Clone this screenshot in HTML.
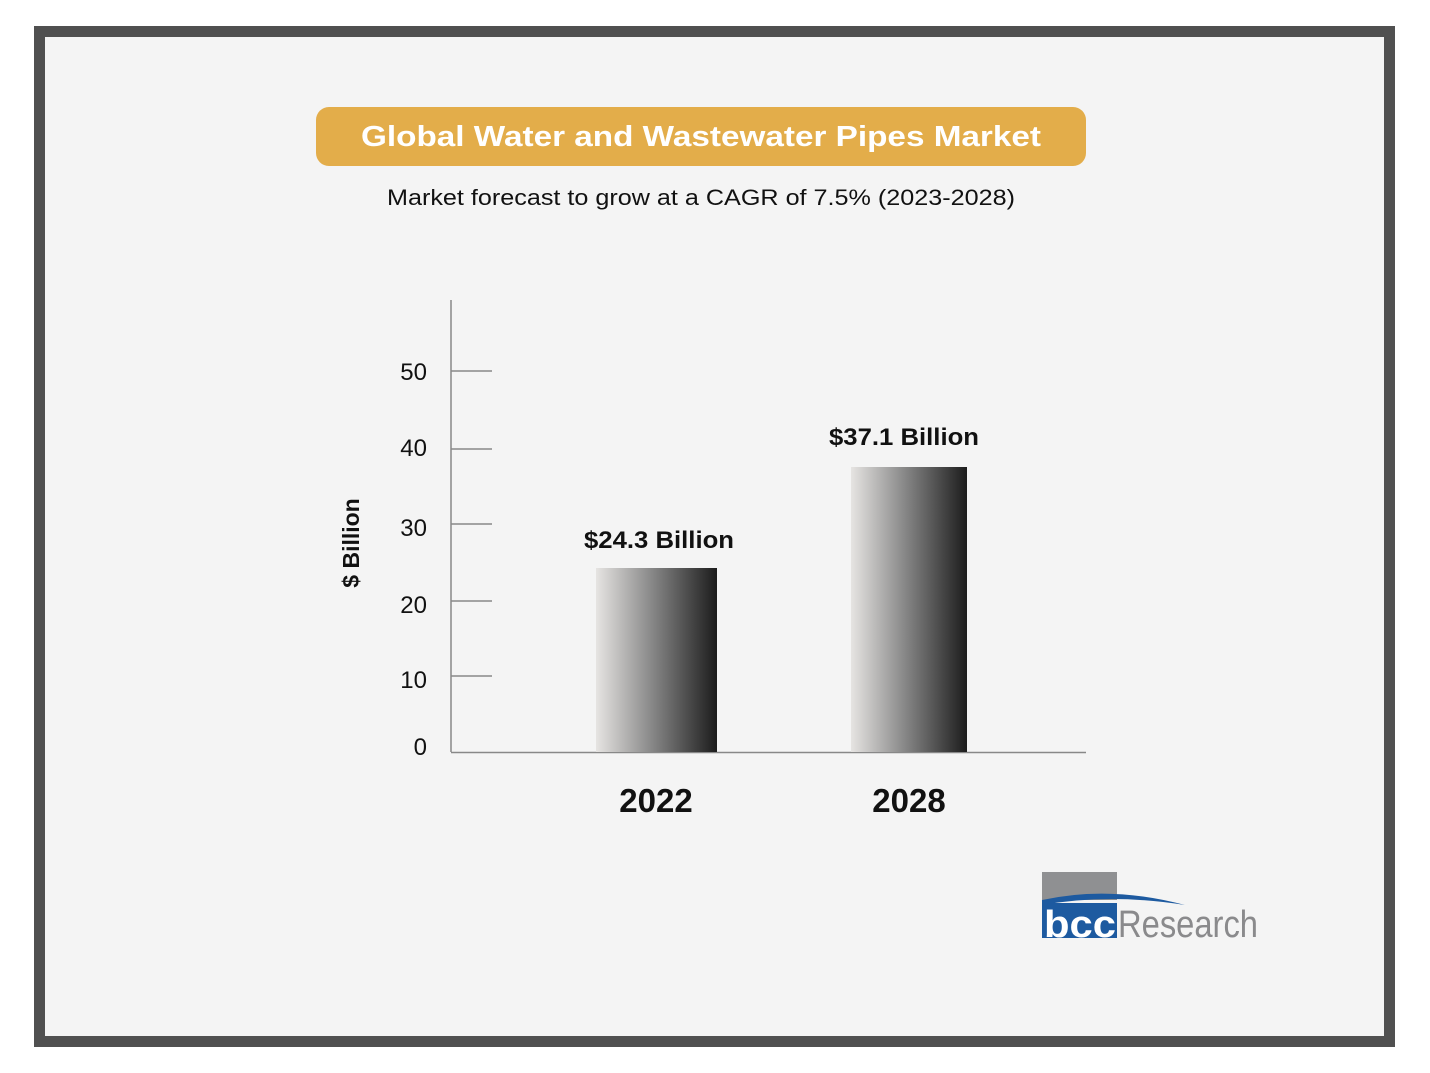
<!DOCTYPE html>
<html><head><meta charset="utf-8"><style>
html,body{margin:0;padding:0;width:1430px;height:1073px;background:#fff;overflow:hidden}
svg{display:block}
text{font-family:"Liberation Sans",sans-serif}
</style></head><body>
<svg width="1430" height="1073" viewBox="0 0 1430 1073">
<defs>
<linearGradient id="g" x1="0" x2="1" y1="0" y2="0">
<stop offset="0" stop-color="#e6e4e2"/><stop offset="0.45" stop-color="#8a8a8a"/><stop offset="1" stop-color="#1c1c1c"/>
</linearGradient>
</defs>
<rect x="0" y="0" width="1430" height="1073" fill="#fff"/>
<rect x="39.5" y="31.5" width="1350" height="1010" fill="#f4f4f4" stroke="#505050" stroke-width="11"/>
<rect x="316" y="107" width="770" height="59" rx="13" fill="#e3ad4a"/>
<text x="701" y="146" text-anchor="middle" font-size="29" font-weight="bold" fill="#fff" textLength="680" lengthAdjust="spacingAndGlyphs">Global Water and Wastewater Pipes Market</text>
<text x="701" y="205" text-anchor="middle" font-size="22" fill="#111" textLength="628" lengthAdjust="spacingAndGlyphs">Market forecast to grow at a CAGR of 7.5% (2023-2028)</text>
<g stroke="#888" stroke-width="1.5">
<line x1="451" y1="300" x2="451" y2="752"/>
<line x1="451" y1="752.5" x2="1086" y2="752.5"/>
<line x1="451" y1="371" x2="492" y2="371"/>
<line x1="451" y1="449" x2="492" y2="449"/>
<line x1="451" y1="524" x2="492" y2="524"/>
<line x1="451" y1="601" x2="492" y2="601"/>
<line x1="451" y1="676" x2="492" y2="676"/>
</g>
<g font-size="24" fill="#111" text-anchor="end">
<text x="427" y="380">50</text><text x="427" y="456">40</text><text x="427" y="536">30</text>
<text x="427" y="613">20</text><text x="427" y="688">10</text><text x="427" y="755">0</text>
</g>
<text transform="translate(359,543) rotate(-90)" text-anchor="middle" font-size="23" font-weight="bold" fill="#111">$ Billion</text>
<rect x="596" y="568" width="121" height="184" fill="url(#g)"/>
<rect x="851" y="467" width="116" height="285" fill="url(#g)"/>
<text x="659" y="548" text-anchor="middle" font-size="24" font-weight="bold" fill="#111" textLength="150" lengthAdjust="spacingAndGlyphs">$24.3 Billion</text>
<text x="904" y="445" text-anchor="middle" font-size="24" font-weight="bold" fill="#111" textLength="150" lengthAdjust="spacingAndGlyphs">$37.1 Billion</text>
<text x="656" y="812" text-anchor="middle" font-size="33" font-weight="bold" fill="#111">2022</text>
<text x="909" y="812" text-anchor="middle" font-size="33" font-weight="bold" fill="#111">2028</text>
<rect x="1042" y="872" width="75" height="28" fill="#8f9092"/>
<path d="M1042 900 Q1110 885 1185 905 Q1110 893 1042 905 Z" fill="#1d5aa0"/>
<rect x="1042" y="903" width="75" height="35" fill="#1d5aa0"/>
<text x="1044" y="937" font-size="38" font-weight="bold" fill="#fff" textLength="72" lengthAdjust="spacingAndGlyphs">bcc</text>
<text x="1118" y="937" font-size="38" fill="#8a8a8c" textLength="140" lengthAdjust="spacingAndGlyphs">Research</text>
</svg>
</body></html>
